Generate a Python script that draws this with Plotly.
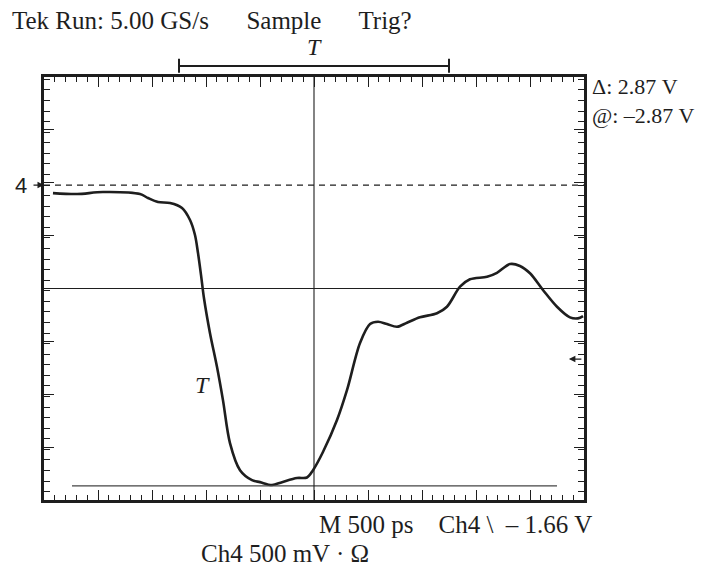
import plotly.graph_objects as go

# Waveform (time in ps relative to screen centre, voltage in V relative to Ch4 ground)
time_ps = [-2417, -2194, -1954, -1611, -1537, -1444, -1333, -1222, -1148, -1102,
           -1074, -1046, -1019, -963, -898, -843, -778, -685, -574, -500,
           -389, -296, -157, -65, -9, 83, 213, 306, 426, 519,
           593, 676, 769, 861, 981, 1139, 1231, 1352, 1444, 1602,
           1694, 1815, 1907, 2000, 2120, 2250, 2370, 2444, 2491]
volts = [-0.077, -0.086, -0.067, -0.086, -0.124, -0.162, -0.172, -0.219, -0.334, -0.477,
         -0.649, -0.859, -1.078, -1.413, -1.737, -2.052, -2.462, -2.720, -2.815, -2.834,
         -2.862, -2.834, -2.795, -2.790, -2.720, -2.547, -2.242, -1.955, -1.507, -1.326,
         -1.304, -1.326, -1.352, -1.313, -1.262, -1.223, -1.161, -0.970, -0.899, -0.875,
         -0.837, -0.754, -0.772, -0.842, -1.001, -1.161, -1.262, -1.272, -1.250]

cursor_1 = 0.0        # V (dashed)
cursor_2 = -2.87      # V (solid)
cursor_2_span = [-2241, 2250]
trigger_level = -1.66 # V
screen_center = -0.987
volts_per_div = 0.504375
t_half = 2500

header = "Tek Run: 5.00 GS/s      Sample      Trig?"
cursor_text = "Δ: 2.87 V<br>@: –2.87 V"
bottom_text = "M 500 ps    Ch4 \\  – 1.66 V"
scale_text = "Ch4 500 mV · Ω"

INK = "#1e1e1e"
FONT = "Liberation Serif"

fig = go.Figure()

fig.add_trace(go.Scatter(x=time_ps, y=volts, mode="lines",
                         line=dict(color=INK, width=2.6, shape="spline", smoothing=0.9),
                         hoverinfo="skip", showlegend=False))

# cursors
fig.add_trace(go.Scatter(x=[-t_half, t_half], y=[cursor_1, cursor_1], mode="lines",
                         line=dict(color=INK, width=1.3, dash="6px,5px"),
                         showlegend=False, hoverinfo="skip"))
fig.add_trace(go.Scatter(x=cursor_2_span, y=[cursor_2, cursor_2], mode="lines",
                         line=dict(color="#444", width=1.4),
                         showlegend=False, hoverinfo="skip"))
# centre graticule lines
y_lo = screen_center - 4 * volts_per_div
y_hi = screen_center + 4 * volts_per_div
fig.add_trace(go.Scatter(x=[0, 0], y=[y_lo, y_hi],
                         mode="lines", line=dict(color=INK, width=1.1),
                         showlegend=False, hoverinfo="skip"))
fig.add_trace(go.Scatter(x=[-t_half, t_half], y=[screen_center, screen_center],
                         mode="lines", line=dict(color=INK, width=1.1),
                         showlegend=False, hoverinfo="skip"))

axis_common = dict(showgrid=False, zeroline=False, showline=True, linewidth=2.5,
                   linecolor=INK, mirror="allticks", ticks="inside", ticklen=10,
                   tickwidth=1.4, tickcolor=INK, showticklabels=False)

fig.update_xaxes(range=[-t_half, t_half], tick0=0, dtick=500,
                 minor=dict(dtick=100, ticklen=5, ticks="inside", tickwidth=1.2, tickcolor=INK),
                 **axis_common)
fig.update_yaxes(range=[y_lo, y_hi], tick0=screen_center, dtick=volts_per_div,
                 minor=dict(dtick=volts_per_div / 5, ticklen=6, ticks="inside", tickwidth=1.2, tickcolor=INK),
                 **axis_common)

def f(s):
    return dict(family=FONT, size=s, color=INK)

ann = [
    dict(text=header, xref="paper", yref="paper", x=-0.063, y=1.134,
         xanchor="left", yanchor="middle", showarrow=False, font=f(25)),
    dict(text="<i>T</i>", xref="paper", yref="paper", x=0.5, y=1.07,
         xanchor="center", yanchor="middle", showarrow=False, font=f(24)),
    dict(text=cursor_text, xref="paper", yref="paper", x=1.011, y=0.944,
         xanchor="left", yanchor="middle", align="left", showarrow=False, font=f(22)),
    dict(text=bottom_text, xref="paper", yref="paper", x=0.505, y=-0.058,
         xanchor="left", yanchor="middle", showarrow=False, font=f(25)),
    dict(text=scale_text, xref="paper", yref="paper", x=0.287, y=-0.126,
         xanchor="left", yanchor="middle", showarrow=False, font=f(25)),
    dict(text="<i>T</i>", xref="x", yref="y", x=-1028, y=-1.908,
         xanchor="center", yanchor="middle", showarrow=False, font=f(24)),
    dict(text="4", xref="paper", yref="y", x=-0.042, y=cursor_1,
         xanchor="center", yanchor="middle", showarrow=False,
         font=dict(family="Liberation Sans", size=22, color=INK)),
    # ground marker arrow (left) and trigger-level arrow (right)
    dict(text="", xref="paper", yref="y", x=0.0, y=cursor_1, ax=-12, ay=0,
         showarrow=True, arrowhead=2, arrowsize=1, arrowwidth=1.3, arrowcolor=INK),
    dict(text="", xref="paper", yref="y", x=0.972, y=trigger_level, ax=14, ay=0,
         showarrow=True, arrowhead=2, arrowsize=1, arrowwidth=1.3, arrowcolor=INK),
]

shapes = [
    dict(type="line", xref="paper", yref="paper", x0=0.25, x1=0.75, y0=1.026, y1=1.026,
         line=dict(color=INK, width=2)),
    dict(type="line", xref="paper", yref="paper", x0=0.25, x1=0.25, y0=1.010, y1=1.043,
         line=dict(color=INK, width=2)),
    dict(type="line", xref="paper", yref="paper", x0=0.75, x1=0.75, y0=1.010, y1=1.043,
         line=dict(color=INK, width=2)),
]

# page body has an 8px margin, so the figure is drawn 8px in from the window edge
fig.update_layout(width=718, height=561, margin=dict(l=36, r=142, t=69, b=69),
                  paper_bgcolor="white", plot_bgcolor="white",
                  annotations=ann, shapes=shapes, showlegend=False)

fig.write_html("out.html")
